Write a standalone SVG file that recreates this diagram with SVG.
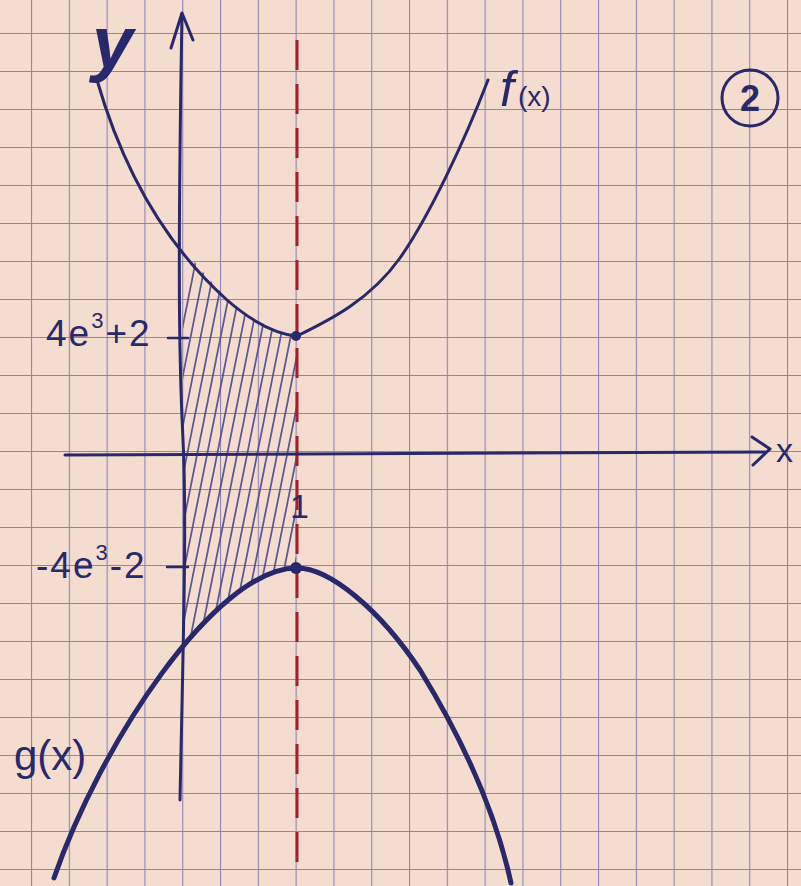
<svg xmlns="http://www.w3.org/2000/svg" width="801" height="886" viewBox="0 0 801 886">
<defs>
<pattern id="grid" patternUnits="userSpaceOnUse" x="31" y="33" width="37.8" height="38">
<path d="M0,0 V38 M0,0 H37.8" fill="none" stroke="#8d85b3" stroke-width="2.2"/>
</pattern>
<clipPath id="region">
<polygon points="183,248 203,272 227,299 250,317 275,330 296,336 296,566 270,574 245,586 223,602 203,621 183,645"/>
</clipPath>
<style>
.ink{fill:none;stroke:#28286c;stroke-linecap:round;stroke-linejoin:round}
.hatch{fill:none;stroke:#4b4b8e;stroke-width:1.8;stroke-linecap:round;opacity:0.9}
.lbl{font-family:"Liberation Sans",Arial,sans-serif;fill:#28286c}
</style>
</defs>
<rect width="801" height="886" fill="#f4dccf"/>
<rect width="801" height="886" fill="url(#grid)"/>

<g id="hatching" clip-path="url(#region)">
<path class="hatch" d="M110,690 l92,-460 M120,690 l92,-460 M130,690 l92,-460 M140,690 l92,-460 M150,690 l92,-460 M160,690 l92,-460 M170,690 l92,-460 M180,690 l92,-460 M190,690 l92,-460 M200,690 l92,-460 M210,690 l92,-460 M220,690 l92,-460 M230,690 l92,-460 M240,690 l92,-460 M250,690 l92,-460 M260,690 l92,-460 M270,690 l92,-460 M280,690 l92,-460"/>
</g>

<g id="guide-x1">
<path d="M297,40 V872" fill="none" stroke="#a3202a" stroke-width="3" stroke-dasharray="30 14"/>
</g>

<g id="axes">
<path class="ink" stroke-width="3" d="M180,800 C183,650 187,520 183,440 C180,380 177,300 182,14"/>
<path class="ink" stroke-width="3" d="M171,48 L182,13 L193,40"/>
<path class="ink" stroke-width="3" d="M65,455 L765,452"/>
<path class="ink" stroke-width="3" d="M752,437 L770,449 L753,465"/>
<path class="ink" stroke-width="2.5" d="M168,338 H188 M167,567 H188"/>
</g>

<g id="curve-f">
<path class="ink" stroke-width="3" d="M97,80 C120,160 160,240 227,300 C250,320 275,334 297,336"/>
<path class="ink" stroke-width="3" d="M297,336 C330,320 370,300 400,258 C430,215 465,140 488,80"/>
<circle cx="296" cy="336" r="5" fill="#28286c"/>
</g>

<g id="curve-g">
<path class="ink" stroke-width="5" d="M54,878 C100,745 215,568 297,568"/>
<path class="ink" stroke-width="5" d="M297,568 C330,568 380,610 420,670 C460,735 495,810 511,883"/>
<circle cx="296" cy="568" r="6" fill="#28286c"/>
</g>

<g id="labels">
<text class="lbl" x="92" y="68" font-size="74" font-weight="bold" font-style="italic" font-family="Liberation Serif, serif">y</text>
<text class="lbl" x="500" y="106" font-size="50" font-style="italic" font-family="Liberation Serif, serif">f<tspan font-size="28" font-style="normal" dx="4">(x)</tspan></text>
<circle cx="750" cy="98" r="28" fill="none" stroke="#28286c" stroke-width="3"/>
<text class="lbl" x="750" y="111" font-size="36" font-weight="bold" text-anchor="middle">2</text>
<text class="lbl" x="46" y="346" font-size="37" letter-spacing="2">4e<tspan font-size="22" dy="-18">3</tspan><tspan dy="18">+2</tspan></text>
<text class="lbl" x="36" y="578" font-size="37" letter-spacing="2">-4e<tspan font-size="22" dy="-18">3</tspan><tspan dy="18">-2</tspan></text>
<text class="lbl" x="290" y="518" font-size="34">1</text>
<text class="lbl" x="776" y="462" font-size="34">x</text>
<text class="lbl" x="14" y="770" font-size="42">g(x)</text>
</g>
</svg>
